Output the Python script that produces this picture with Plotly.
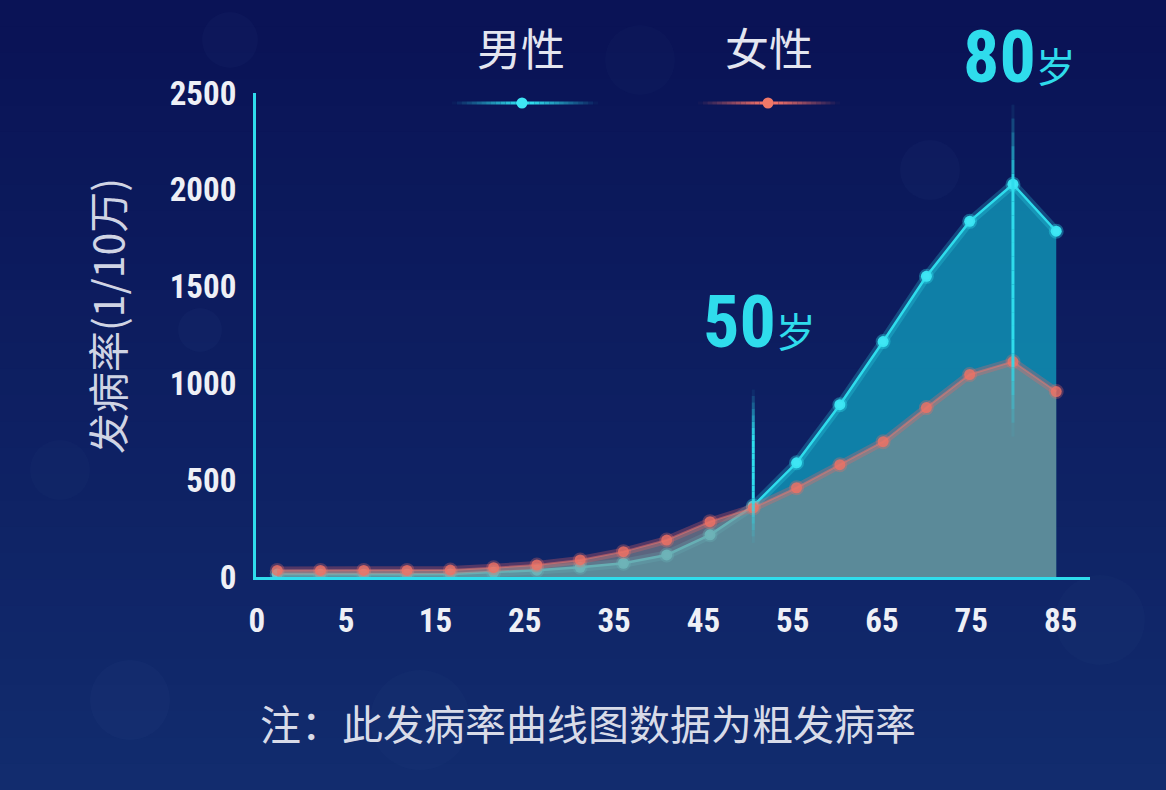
import math
import numpy as np
import plotly.graph_objects as go

# ---------------- data ----------------
ages = [0, 1, 5, 10, 15, 20, 25, 30, 35, 40, 45, 50, 55, 60, 65, 70, 75, 80, 85]
male = [15, 14, 14, 14, 16, 24, 35, 50, 71, 114, 218, 367, 590, 890, 1216, 1553, 1837, 2029, 1786]
female = [34, 34, 34, 34, 36, 48, 62, 88, 131, 191, 286, 357, 461, 580, 699, 875, 1046, 1113, 958]
x_tick_labels = ["0", "5", "15", "25", "35", "45", "55", "65", "75", "85"]
y_tick_vals = [0, 500, 1000, 1500, 2000, 2500]
series_names = ["男性", "女性"]
highlight_ages = [50, 80]
y_title = "发病率(1/10万)"
note = "注：此发病率曲线图数据为粗发病率"

# ---------------- style ----------------
CYAN = "#2fdcec"
NUM_FONT = "Roboto Condensed, Liberation Sans Narrow, Arial Narrow, Roboto, sans-serif"
CJK_FONT = "Noto Sans CJK SC, Noto Sans, sans-serif"

xs = list(range(len(ages)))
tick_pos = list(np.linspace(-0.47, 18.1, len(x_tick_labels)))

fig = go.Figure()

W, H = 1166, 790
L, R, T, B = 256, 76, 93, 213
pw, ph = W - L - R, H - T - B
def px2paper_x(px):
    return (px - L) / pw
def px2paper_y(py):
    return (H - B - py) / ph

top_c = np.array([10, 19, 86])
bot_c = np.array([18, 44, 110])
nb = 30
shapes = []
for i in range(nb):
    t = i / (nb - 1)
    c = top_c * (1 - t) + bot_c * t
    shapes.append(dict(type="rect", xref="paper", yref="paper", layer="below",
                       x0=px2paper_x(0), x1=px2paper_x(W),
                       y0=px2paper_y(H * i / nb), y1=px2paper_y(H * (i + 1) / nb + 1),
                       fillcolor="rgb(%d,%d,%d)" % tuple(c), line=dict(width=0)))
for (cx, cy, r, a) in [(230, 40, 28, 0.03), (130, 700, 40, 0.03), (420, 720, 50, 0.025),
                       (930, 170, 30, 0.03), (200, 330, 22, 0.03), (1100, 620, 45, 0.025),
                       (640, 60, 35, 0.025), (60, 470, 30, 0.025)]:
    shapes.append(dict(type="circle", xref="paper", yref="paper", layer="below",
                       x0=px2paper_x(cx - r), x1=px2paper_x(cx + r),
                       y0=px2paper_y(cy + r), y1=px2paper_y(cy - r),
                       fillcolor="rgba(120,150,230,%.3f)" % a, line=dict(width=0)))


def fade_segments(x0, y0, x1, y1, xref, yref, rgb, width, n=24, edge=0.35, layer="above"):
    out = []
    for i in range(n):
        t0, t1 = i / n, (i + 1) / n
        m = (t0 + t1) / 2
        a = min(1.0, min(m, 1 - m) / edge)
        out.append(dict(type="line", xref=xref, yref=yref, layer=layer,
                        x0=x0 + (x1 - x0) * t0, x1=x0 + (x1 - x0) * t1,
                        y0=y0 + (y1 - y0) * t0, y1=y0 + (y1 - y0) * t1,
                        line=dict(color="rgba(%d,%d,%d,%.3f)" % (rgb + (a,)), width=width)))
    return out

# ---------------- traces ----------------
fig.add_trace(go.Scatter(x=xs, y=male, mode="lines", fill="tozeroy",
                         fillcolor="rgba(16,152,185,0.80)",
                         line=dict(color="rgba(47,220,236,0.25)", width=9),
                         hoverinfo="skip", showlegend=False))
fig.add_trace(go.Scatter(x=xs, y=male, mode="lines+markers", name=series_names[0],
                         line=dict(color=CYAN, width=2.5),
                         marker=dict(size=11, color="#3fe6f4",
                                     line=dict(color="rgba(47,220,236,0.35)", width=4)),
                         showlegend=False))
fig.add_trace(go.Scatter(x=xs, y=female, mode="lines", fill="tozeroy",
                         fillcolor="rgba(142,145,144,0.60)",
                         line=dict(color="rgba(240,100,100,0.3)", width=8),
                         hoverinfo="skip", showlegend=False))
fig.add_trace(go.Scatter(x=xs, y=female, mode="lines+markers", name=series_names[1],
                         line=dict(color="rgba(240,120,110,0.5)", width=2),
                         marker=dict(size=11, color="rgba(240,115,100,0.8)",
                                     line=dict(color="rgba(240,110,100,0.3)", width=4)),
                         showlegend=False))

hx50 = ages.index(highlight_ages[0])
hx80 = ages.index(highlight_ages[1])
shapes += fade_segments(hx50, 176, hx50, 968, "x", "y", (47, 220, 236), 3, edge=0.3)
shapes += fade_segments(hx80, 725, hx80, 2440, "x", "y", (47, 220, 236), 3, edge=0.25)

shapes += fade_segments(px2paper_x(452), px2paper_y(103), px2paper_x(598), px2paper_y(103),
                        "paper", "paper", (47, 220, 236), 3, n=30, edge=0.45)
shapes += fade_segments(px2paper_x(698), px2paper_y(103), px2paper_x(840), px2paper_y(103),
                        "paper", "paper", (240, 112, 104), 3, n=30, edge=0.45)
for cx, col in [(522, "#3fe6f4"), (768, "#f07868")]:
    r = 5.5
    shapes.append(dict(type="circle", xref="paper", yref="paper",
                       x0=px2paper_x(cx - r), x1=px2paper_x(cx + r),
                       y0=px2paper_y(103 + r), y1=px2paper_y(103 - r),
                       fillcolor=col, line=dict(width=0)))

SUI = "<span style='font-family:Noto Sans CJK SC;font-size:40px;font-weight:normal'>岁</span>"
def big_label(age):
    return "<b>%d</b>%s" % (age, SUI)

annotations = [
    dict(xref="paper", yref="paper", x=px2paper_x(521), y=px2paper_y(47),
         xanchor="center", yanchor="middle", text=series_names[0], showarrow=False,
         font=dict(family=CJK_FONT, size=44, color="#e4e6f0")),
    dict(xref="paper", yref="paper", x=px2paper_x(769), y=px2paper_y(47),
         xanchor="center", yanchor="middle", text=series_names[1], showarrow=False,
         font=dict(family=CJK_FONT, size=44, color="#e4e6f0")),
    dict(xref="paper", yref="paper", x=px2paper_x(759), y=px2paper_y(322),
         xanchor="center", yanchor="middle", text=big_label(highlight_ages[0]),
         showarrow=False, font=dict(family=NUM_FONT, size=72, color=CYAN)),
    dict(xref="paper", yref="paper", x=px2paper_x(1019), y=px2paper_y(58),
         xanchor="center", yanchor="middle", text=big_label(highlight_ages[1]),
         showarrow=False, font=dict(family=NUM_FONT, size=72, color=CYAN)),
    dict(xref="paper", yref="paper", x=px2paper_x(106), y=px2paper_y(316),
         xanchor="center", yanchor="middle",
         text=y_title, textangle=-90, showarrow=False,
         font=dict(family=CJK_FONT, size=41, color="#d0d4e4")),
    dict(xref="paper", yref="paper", x=px2paper_x(588), y=px2paper_y(722),
         xanchor="center", yanchor="middle",
         text=note, showarrow=False,
         font=dict(family=CJK_FONT, size=41, color="#d8dbe8")),
]

tickfont = dict(family=NUM_FONT, size=33, color="#eef0f6", weight="bold")
fig.update_layout(
    width=W, height=H,
    margin=dict(l=L, r=R, t=T, b=B, pad=0),
    paper_bgcolor="#0c1a5e", plot_bgcolor="rgba(0,0,0,0)",
    shapes=shapes, annotations=annotations, showlegend=False,
    xaxis=dict(range=[-0.49, 18.78], tickvals=tick_pos, ticktext=x_tick_labels,
               showgrid=False, zeroline=False, showline=True, linecolor=CYAN, linewidth=3,
               ticks="", ticklabelstandoff=12, tickfont=tickfont),
    yaxis=dict(range=[0, 2500], tickvals=y_tick_vals,
               showgrid=False, zeroline=False,
               showline=True, linecolor=CYAN, linewidth=3, ticks="", ticklabelstandoff=10,
               tickfont=tickfont),
)

fig.write_html("out.html", config={"displayModeBar": False},
               post_script="document.body.style.margin='0';document.body.style.background='#0c1a5e';")
